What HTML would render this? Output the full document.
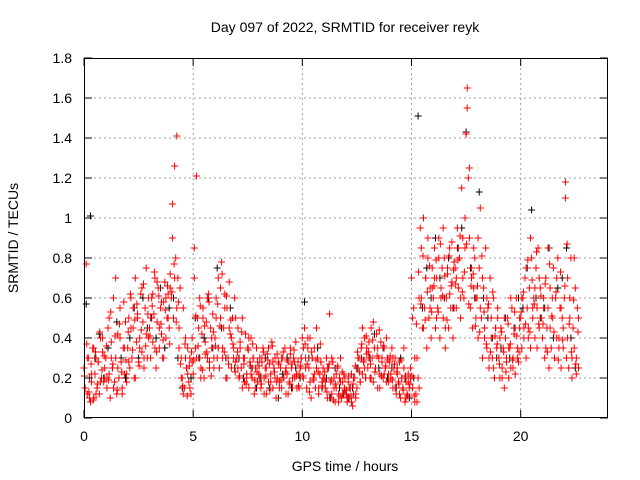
<!DOCTYPE html>
<html><head><meta charset="utf-8"><style>
body{margin:0;background:#fff}
svg{display:block;font-family:"Liberation Sans",sans-serif}
</style></head><body>
<svg id="chart" width="640" height="480" viewBox="0 0 640 480">
<rect width="640" height="480" fill="#fff"/>
<text x="345" y="32" text-anchor="middle" font-size="14">Day 097 of 2022, SRMTID for receiver reyk</text>
<g id="grid"></g>
<g id="marks"></g>
<g id="axes"></g>
<text transform="translate(18,238) rotate(-90)" text-anchor="middle" font-size="14">SRMTID / TECUs</text>
<text x="345" y="471" text-anchor="middle" font-size="14">GPS time / hours</text>
</svg>
<script>
const xTicks=[0,5,10,15,20];
const yTicks=[0,0.2,0.4,0.6,0.8,1,1.2,1.4,1.6,1.8];
const yTickLabels=["0","0.2","0.4","0.6","0.8","1","1.2","1.4","1.6","1.8"];
const redStart=0,redStep=0.05;
const redA=[.25,.15,.77,.12,.3,.2,.08,.18,.35,.1,.22,.3,.15,.28,.12,.4,.2,.33,.18,.25,
.3,.15,.45,.22,.1,.38,.25,.6,.18,.3,.12,.42,.2,.55,.28,.15,.35,.22,.48,.18,
.35,.5,.25,.6,.3,.45,.2,.7,.38,.52,.28,.4,.62,.33,.48,.25,.55,.42,.3,.6,
.45,.3,.6,.38,.52,.7,.25,.48,.65,.35,.55,.42,.3,.58,.68,.4,.5,.62,.45,.72,
.6,1.07,.5,1.26,.8,1.41,.7,.45,.65,.3,.2,.55,.15,.4,.25,.35,.18,.3,.12,.28,
.22,.85,.35,1.21,.5,.3,.6,.25,.42,.55,.2,.38,.48,.3,.62,.28,.45,.35,.52,.25,
.4,.6,.3,.7,.25,.5,.78,.35,.45,.62,.2,.55,.3,.68,.42,.25,.5,.35,.6,.28,
.3,.45,.2,.38,.25,.5,.3,.18,.42,.22,.35,.15,.28,.4,.2,.3,.12,.25,.35,.18,
.22,.3,.15,.28,.35,.2,.25,.12,.32,.18,.27,.22,.38,.15,.25,.3,.1,.2,.28,.18,
.25,.15,.3,.2,.35,.12,.22,.28,.18,.32,.25,.15,.3,.2,.38,.22,.28,.15,.25,.3,
.4,.2,.45,.3,.15,.35,.25,.4,.1,.3,.2,.35,.15,.25,.3,.12,.22,.28,.18,.25,
.2,.15,.3,.1,.25,.52,.18,.12,.28,.2,.08,.15,.25,.12,.2,.3,.1,.18,.22,.14,
.12,.08,.18,.1,.15,.22,.06,.12,.2,.1,.15,.25,.3,.18,.35,.22,.28,.4,.2,.32,
.25,.38,.2,.45,.3,.18,.35,.25,.42,.15,.3,.22,.38,.28,.2,.35,.25,.18,.3,.22,
.28,.2,.35,.15,.25,.3,.12,.22,.18,.28,.1,.2,.15,.25,.08,.18,.12,.22,.15,.2,
.7,.5,.55,.3,.12,.08,.2,.15,.95,.6,.45,1.0,.55,.7,.35,.8,.5,.65,.4,.75,
.6,.85,.45,.7,.55,.9,.4,.65,.75,.5,.8,.35,.6,.72,.45,.85,.55,.68,.4,.78,
.75,.55,.95,.65,.8,.5,1.15,.7,.6,.85,1.42,1.65,1.2,.9,.55,.75,.45,.65,.8,.5,
.6,.4,.75,1.05,.5,.3,.65,.45,.85,.35,.55,.25,.7,.4,.3,.6,.2,.45,.35,.5,
.3,.2,.45,.25,.35,.15,.4,.3,.5,.2,.35,.25,.55,.3,.42,.22,.6,.35,.28,.45,
.5,.35,.6,.4,.7,.3,.55,.45,.65,.35,.8,.5,.6,.4,.75,.55,.85,.45,.65,.5,
.4,.6,.3,.7,.45,.55,.25,.65,.35,.5,.75,.3,.6,.4,.8,.35,.55,.25,.5,.45,
.6,1.1,.3,.7,.25,.5,.8,.2,.45,.35,.65,.3,.55,.25];
const red2Start=0.05,red2Step=0.1;
const redB=[.15,.3,.1,.22,.35,.12,.28,.18,.4,.2,
.2,.5,.3,.15,.7,.25,.4,.12,.35,.22,
.28,.45,.55,.2,.5,.35,.65,.3,.75,.4,
.5,.62,.35,.68,.45,.58,.3,.6,.5,.65,
.9,.7,.55,.35,.2,.12,.3,.22,.15,.4,
.7,.3,.45,.2,.5,.32,.6,.25,.4,.3,
.5,.35,.65,.3,.55,.2,.45,.4,.3,.5,
.25,.35,.15,.3,.2,.4,.22,.3,.15,.28,
.2,.3,.12,.25,.35,.18,.28,.2,.32,.15,
.3,.2,.25,.12,.35,.2,.28,.15,.22,.3,
.35,.25,.4,.18,.3,.22,.45,.15,.28,.2,
.18,.25,.1,.3,.15,.22,.08,.18,.12,.2,
.1,.15,.08,.2,.12,.3,.18,.45,.25,.35,
.3,.2,.48,.25,.35,.15,.3,.22,.4,.18,
.22,.3,.15,.25,.12,.2,.35,.1,.18,.25,
.15,.08,.3,.6,.85,.45,.7,.9,.55,.65,
.7,.5,.8,.6,.95,.45,.75,.62,.88,.55,
.7,.85,.6,.9,1.0,1.55,1.25,.7,.85,.6,
.9,.55,.7,.4,.6,.3,.5,.25,.45,.55,
.4,.2,.5,.28,.35,.6,.25,.45,.3,.5,
.6,.45,.75,.4,.9,.55,.65,.35,.7,.5,
.55,.35,.85,.45,.6,.3,.7,.4,.55,.35,
1.18,.4,.6,.3,.8,.22,.5];
const red3Start=0.025,red3Step=0.1;
const redC=[.21,.37,.13,.27,.09,.33,.17,.43,.24,.31,
.36,.19,.53,.27,.41,.14,.47,.23,.58,.29,
.43,.62,.34,.49,.57,.26,.44,.67,.36,.52,
.41,.56,.73,.33,.61,.47,.39,.54,.66,.37,
.63,.77,.48,.58,.27,.16,.37,.11,.26,.33,
.29,.51,.36,.56,.24,.46,.33,.58,.21,.43,
.36,.57,.46,.72,.33,.61,.27,.49,.37,.23,
.33,.21,.43,.27,.17,.34,.26,.37,.19,.23,
.26,.17,.33,.21,.29,.14,.36,.23,.18,.27,
.19,.33,.23,.29,.17,.27,.34,.21,.16,.26,
.21,.37,.27,.13,.33,.19,.29,.23,.37,.16,
.23,.13,.27,.19,.09,.17,.26,.11,.23,.15,
.14,.21,.11,.17,.26,.33,.23,.37,.29,.41,
.33,.27,.39,.23,.31,.44,.21,.36,.26,.29,
.31,.19,.27,.23,.17,.29,.14,.21,.11,.17,
.21,.11,.47,.73,.57,.81,.49,.63,.76,.53,
.66,.79,.53,.87,.61,.71,.49,.81,.66,.74,
.67,.79,.91,.63,.73,.87,.57,.66,.72,.46,
.66,.43,.81,.53,.37,.57,.33,.63,.41,.37,
.27,.43,.33,.23,.47,.37,.29,.53,.41,.33,
.53,.63,.47,.79,.43,.69,.57,.83,.47,.61,
.47,.67,.33,.77,.51,.43,.63,.29,.73,.39,
.66,.87,.47,.33,.59,.27,.43];
const blackStart=0.1,blackStep=0.2;
const blackV=[.57,1.01,.3,.42,.2,.35,.25,.48,.3,.2,.4,.55,.3,.6,.45,.5,.4,.65,.35,.55,
.6,.3,.15,.25,.2,.5,.3,.4,.6,.35,.75,.45,.3,.55,.25,.3,.2,.35,.25,.15,
.2,.3,.15,.25,.1,.22,.3,.15,.25,.2,.58,.3,.2,.35,.15,.2,.1,.25,.15,.12,
.1,.15,.25,.3,.2,.3,.42,.25,.35,.2,.25,.15,.3,.2,.1,.2,1.51,.55,.75,.6,
.9,.7,.6,.8,.55,.85,.95,1.43,.75,.6,1.13,.6,.5,.4,.3,.35,.5,.3,.45,.6,
.55,.75,1.04,.6,.5,.55,.85,.4,.65,.7,.85,.4,.25];

const L=84,R=608,T=58,B=418,XMAX=24,YMAX=1.8;
const xs=v=>L+v/XMAX*(R-L);
const ys=v=>B-v/YMAX*(B-T);
const NS="http://www.w3.org/2000/svg";
function mk(tag,attrs,parent){const e=document.createElementNS(NS,tag);for(const k in attrs)e.setAttribute(k,attrs[k]);parent.appendChild(e);return e;}
const grid=document.getElementById('grid'),axes=document.getElementById('axes'),marks=document.getElementById('marks');
yTicks.forEach((v,i)=>{
  const y=ys(v);
  if(i>0&&i<yTicks.length-1){const g=mk('line',{x1:L,x2:R,y1:y,y2:y,stroke:'#a0a0a0','stroke-dasharray':'2,3','stroke-width':1},grid);
  
  }
  mk('line',{x1:L,x2:L+8,y1:y,y2:y,stroke:'#000'},axes);
  mk('line',{x1:R,x2:R-8,y1:y,y2:y,stroke:'#000'},axes);
  const t=mk('text',{x:L-12,y:y+5,'text-anchor':'end','font-size':14},axes);
  t.textContent=yTickLabels[i];
  
  
});
xTicks.forEach(v=>{
  const x=xs(v);
  if(v>0){const g=mk('line',{x1:x,x2:x,y1:T,y2:B,stroke:'#a0a0a0','stroke-dasharray':'2,3'},grid);
  
  }
  mk('line',{x1:x,x2:x,y1:B,y2:B-8,stroke:'#000'},axes);
  mk('line',{x1:x,x2:x,y1:T,y2:T+8,stroke:'#000'},axes);
  const t=mk('text',{x:x,y:B+23,'text-anchor':'middle','font-size':14},axes);
  t.textContent=String(v);
  
  
});
const frame=mk('rect',{x:L+.5,y:T+.5,width:R-L-1,height:B-T-1,fill:'none',stroke:'#000'},axes);


function series(vals,start,step,color,name){
  let d='';
  vals.forEach((v,i)=>{const x=xs(start+i*step),y=ys(v);d+=`M${(x-3.5).toFixed(1)} ${y.toFixed(1)}h7M${x.toFixed(1)} ${(y-3.5).toFixed(1)}v7`;});
  const p=mk('path',{d:d,stroke:color,'stroke-width':1,fill:'none'},marks);
  
  
}
series(blackV,blackStart,blackStep,'#000','black-series');
series(redA,redStart,redStep,'#ff0000','red-series-a');
series(redB,red2Start,red2Step,'#ff0000','red-series-b');
series(redC,red3Start,red3Step,'#ff0000','red-series-c');
</script>
</body></html>
